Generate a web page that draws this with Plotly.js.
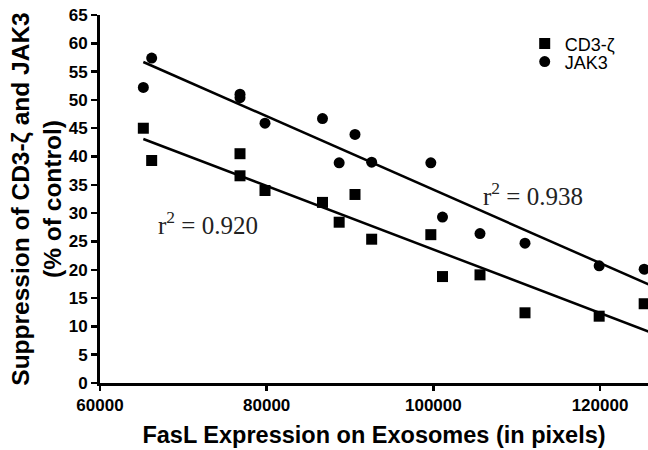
<!DOCTYPE html>
<html>
<head>
<meta charset="utf-8">
<script src="https://cdn.plot.ly/plotly-3.0.1.min.js"></script>
<style>html,body{margin:0;padding:0;background:#fff;}#chart{width:648px;height:450px;}</style>
</head>
<body>
<div id="chart"></div>
<script>
// Data
const fasL = [65200, 66200, 76800, 76800, 79800, 86700, 88700, 90600, 92600, 99700, 101100, 105600, 111000, 119900, 125300];
const cd3Zeta = [45.0, 39.3, 40.5, 36.6, 34.0, 31.9, 28.4, 33.3, 25.4, 26.2, 18.8, 19.1, 12.4, 11.8, 14.0];
const jak3 = [52.2, 57.4, 51.0, 50.4, 45.9, 46.7, 38.9, 43.9, 39.0, 38.9, 29.3, 26.4, 24.7, 20.7, 20.1];
// Regression line end points
const fitX = [65200, 126000];
const fitCD3 = [43.1, 9.0];
const fitJAK3 = [56.7, 17.3];
const r2Labels = ["r<sup>2</sup> = 0.920", "r<sup>2</sup> = 0.938"];
const r2Pos = [[73000, 28.3], [112000, 33.3]];
const yTicks = [0,5,10,15,20,25,30,35,40,45,50,55,60,65];
const xTicks = [60000, 80000, 100000, 120000];

const sans = "Liberation Sans, Arial, sans-serif";
const traces = [
  {x: fasL, y: cd3Zeta, mode: 'markers', type: 'scatter', name: 'CD3-ζ', legend: 'legend',
   marker: {symbol: 'square', size: 11, color: '#000'}},
  {x: fasL, y: jak3, mode: 'markers', type: 'scatter', name: 'JAK3', legend: 'legend2',
   marker: {symbol: 'circle', size: 11, color: '#000'}},
  {x: fitX, y: fitCD3, mode: 'lines', type: 'scatter', showlegend: false,
   line: {color: '#000', width: 2.5}},
  {x: fitX, y: fitJAK3, mode: 'lines', type: 'scatter', showlegend: false,
   line: {color: '#000', width: 2.5}}
];
const legFont = {family: sans, size: 18, color: '#000'};
const layout = {
  width: 648, height: 450,
  margin: {l: 100, r: 0, t: 15, b: 67},
  paper_bgcolor: '#fff', plot_bgcolor: '#fff',
  showlegend: true,
  legend: {x: 0.775, y: 0.972, xanchor: 'left', yanchor: 'top', bgcolor: 'rgba(0,0,0,0)', font: legFont},
  legend2: {x: 0.775, y: 0.923, xanchor: 'left', yanchor: 'top', bgcolor: 'rgba(0,0,0,0)', font: legFont},
  xaxis: {range: [60000, 125760], tickvals: xTicks, ticktext: xTicks.map(v => '<b>' + v + '</b>'),
    showgrid: false, zeroline: false, showline: true, linecolor: '#000', linewidth: 3,
    ticks: 'outside', ticklen: 5, tickwidth: 2.5, tickcolor: '#000',
    tickfont: {family: sans, size: 17, color: '#000'},
    title: {text: '<b>FasL Expression on Exosomes (in pixels)</b>', standoff: 13,
      font: {family: sans, size: 23.5, color: '#000'}}},
  yaxis: {range: [0, 65], tickvals: yTicks, ticktext: yTicks.map(v => '<b>' + v + '</b>'),
    showgrid: false, zeroline: false, showline: true, linecolor: '#000', linewidth: 3,
    ticks: 'outside', ticklen: 6, tickwidth: 2.5, tickcolor: '#000',
    tickfont: {family: sans, size: 17, color: '#000'},
    title: {text: '<b>Suppression of CD3-ζ and JAK3<br>(% of control)</b>', standoff: 1,
      font: {family: sans, size: 24.5, color: '#000'}}},
  annotations: r2Labels.map((t, i) => ({x: r2Pos[i][0], y: r2Pos[i][1], xref: 'x', yref: 'y',
    text: t, showarrow: false, font: {family: 'Liberation Serif, Times New Roman, serif', size: 25, color: '#222'}}))
};
Plotly.newPlot('chart', traces, layout, {staticPlot: true, displayModeBar: false});
</script>
</body>
</html>
